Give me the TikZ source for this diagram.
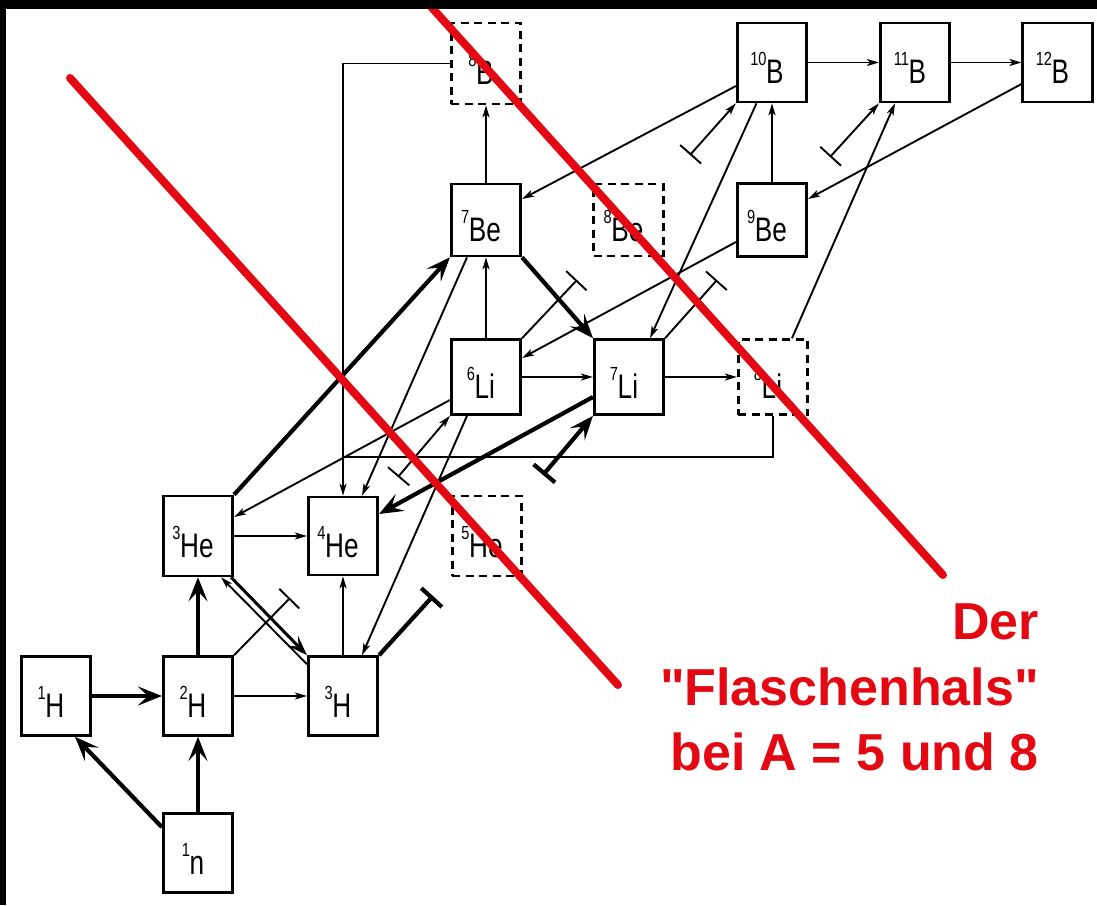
\documentclass[tikz,border=0pt]{standalone}
\usepackage{fontspec}
\setmainfont{Liberation Sans}
\usetikzlibrary{arrows.meta,calc}
\definecolor{myred}{RGB}{228,8,18}
\newcommand\iso[2]{\scalebox{0.77}[1]{\raisebox{18pt}{\fontsize{19}{19}\selectfont #1}\kern-0.5pt\fontsize{34}{34}\selectfont #2}\kern10pt}
\newcommand\qq{\XeTeXglyph\XeTeXcharglyph"22\relax}
\begin{document}
\begin{tikzpicture}[x=1pt,y=-1pt,
  box/.style={draw,line width=2.6pt,fill=white,minimum width=69.5pt,minimum height=79pt,inner sep=0pt,text height=42pt,text depth=0pt},
  dbox/.style={box,dash pattern=on 8pt off 5.5pt},
  tarr/.style={line width=1.9pt,-{Stealth[length=12pt,width=7pt,inset=3pt]}},
  marr/.style={line width=3pt,-{Stealth[length=20pt,width=14pt,inset=8pt]}},
  Tarr/.style={line width=4.2pt,-{Stealth[length=24pt,width=19pt,inset=10pt]}},
  tbar/.style={line width=1.9pt,-{Bar[width=28pt]}},
  Tbar/.style={line width=4.2pt,-{Bar[width=28pt]}},
  barr/.style={line width=1.9pt,{Bar[width=28pt]}-{Stealth[length=12pt,width=7pt,inset=3pt]}},
  Barr/.style={line width=4.2pt,{Bar[width=28pt]}-{Stealth[length=24pt,width=19pt,inset=10pt]}},
  plain/.style={line width=1.9pt},
  redline/.style={myred,line width=8pt,line cap=round},
  redtext/.style={anchor=base east,text=myred,inner sep=0pt,font=\fontsize{52}{52}\selectfont\bfseries}
]
\fill[white] (0,0) rectangle (1097,905);
\useasboundingbox (0,0) rectangle (1097,905);

% boxes
\node[box] (n1) at (198,853) {\iso{1}{n}};
\node[box] (H1) at (56,696) {\iso{1}{H}};
\node[box] (H2) at (198,696) {\iso{2}{H}};
\node[box] (H3) at (343,696) {\iso{3}{H}};
\node[box,minimum height=80pt] (He3) at (198,536) {\iso{3}{He}};
\node[box,minimum height=78pt] (He4) at (343,536) {\iso{4}{He}};
\node[dbox,minimum height=80pt] (He5) at (487,536) {\iso{5}{He}};
\node[box,minimum height=75pt] (Li6) at (486,377) {\iso{6}{Li}};
\node[box,minimum height=75pt] (Li7) at (629,377) {\iso{7}{Li}};
\node[dbox,minimum height=75pt] (Li8) at (773,377) {\iso{8}{Li}};
\node[box,minimum height=72pt] (Be7) at (486,220) {\iso{7}{Be}};
\node[dbox,minimum height=72pt] (Be8) at (628.5,220) {\iso{8}{Be}};
\node[box,minimum height=73pt] (Be9) at (772,220) {\iso{9}{Be}};
\node[dbox,minimum height=81pt] (B8) at (486,63.5) {\iso{8}{B}};
\node[box] (B10) at (772,62.5) {\iso{10}{B}};
\node[box] (B11) at (915,62.5) {\iso{11}{B}};
\node[box] (B12) at (1057.5,62.5) {\iso{12}{B}};

% bar end points
\coordinate (b1) at (290,598);
\coordinate (b2) at (433,596);
\coordinate (b3) at (577,280);
\coordinate (b4) at (717,280);
\coordinate (b5) at (690,155);
\coordinate (b6) at (830,157);
\coordinate (b7) at (543,475);
\coordinate (b8) at (398,477);

% connectors
\draw[Tarr] ([shift={(0,15)}]n1.north west) -- ([shift={(19,0)}]H1.south);
\draw[Tarr] (n1.north) -- (H2.south);
\draw[Tarr] (H1.east) -- (H2.west);
\draw[Tarr] (H2.north) -- (He3.south);
\draw[tarr] (H2.east) -- (H3.west);
\draw[tbar] (H2.north east) -- (b1);
\draw[marr] ([shift={(-3,0)}]He3.south east) -- (H3.north west);
\draw[tarr] ([shift={(0,9)}]H3.north west) -- ([shift={(-13,0)}]He3.south east);
\draw[tarr] (He3.east) -- (He4.west);
\draw[tarr] (H3.north) -- (He4.south);
\draw[Tbar] (H3.north east) -- (b2);
\draw[Tarr] (He3.north east) -- (Be7.south west);
\draw[tarr] ([shift={(0,23)}]Li6.west) -- ([shift={(0,-19)}]He3.east);
\draw[tarr] (B8.west) -| (He4.north);
\draw[plain] (Li8.south) |- ([shift={(0,-39)}]He4.north);
\draw[tarr] ([shift={(-19,0)}]Be7.south) -- ([shift={(19,0)}]He4.north);
\draw[tarr] ([shift={(-19,0)}]Li6.south) -- ([shift={(19,0)}]H3.north);
\draw[tarr] (Li6.north) -- (Be7.south);
\draw[Tarr] (Be7.south east) -- (Li7.north west);
\draw[tbar] (Li6.north east) -- (b3);
\draw[tarr] ([shift={(0,22)}]Be9.west) -- ([shift={(0,-19)}]Li6.east);
\draw[tarr] ([shift={(-15.5,0)}]B10.south) -- ([shift={(21,0)}]Li7.north);
\draw[tbar] (Li7.north east) -- (b4);
\draw[tarr] ([shift={(19,0)}]Li8.north) -- ([shift={(-20,0)}]B11.south);
\draw[tarr] ([shift={(0,23.5)}]B10.west) -- ([shift={(0,-21)}]Be7.east);
\draw[barr] (b5) -- (B10.south west);
\draw[tarr] (Be9.north) -- (B10.south);
\draw[tarr] (B10.east) -- (B11.west);
\draw[tarr] (B11.east) -- (B12.west);
\draw[barr] (b6) -- (B11.south west);
\draw[tarr] ([shift={(0,21.5)}]B12.west) -- ([shift={(0,-21)}]Be9.east);
\draw[tarr] (Be7.north) -- (B8.south);
\draw[tarr] (Li6.east) -- (Li7.west);
\draw[tarr] (Li7.east) -- (Li8.west);
\draw[Tarr] ([shift={(0,20)}]Li7.west) -- ([shift={(0,-22)}]He4.east);
\draw[Barr] (b7) -- (Li7.south west);
\draw[barr] (b8) -- (Li6.south west);

% red bottleneck lines
\draw[redline] (70,78) -- (618,685);
\draw[redline] (425,0) -- (943,575);

% red text
\node[redtext] (tDer) at (1039,639) {Der};
\node[redtext] (tFlasche) at (1039,705) {\qq Flaschenhals\qq};
\node[redtext] (tBei) at (1039,770) {bei A = 5 und 8};

% black border bands
\fill[black] (0,0) rectangle (1097,9);
\fill[black] (0,0) rectangle (6,905);
\end{tikzpicture}
\end{document}
